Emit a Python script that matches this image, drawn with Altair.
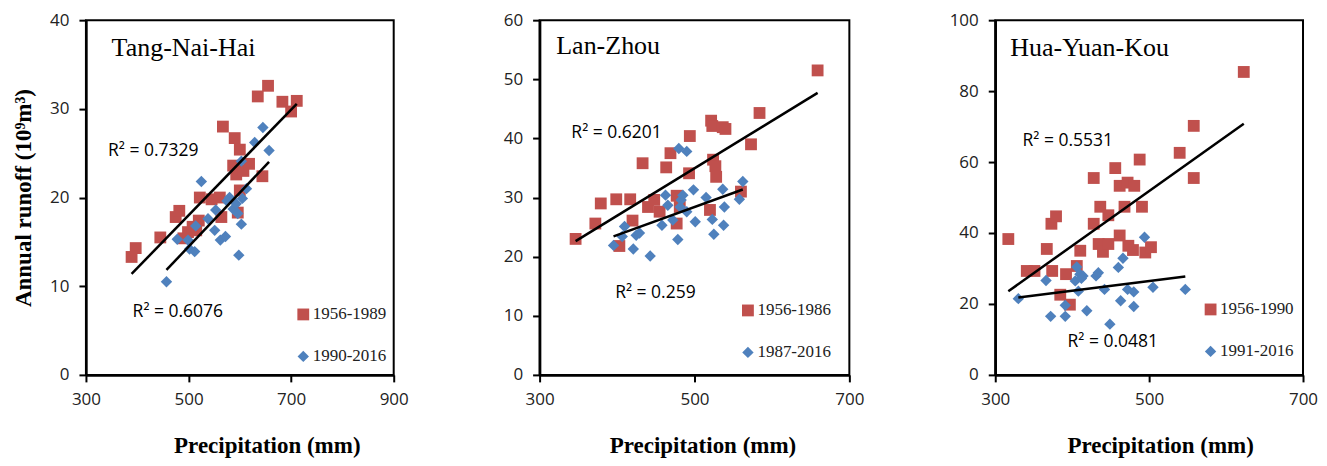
import altair as alt
import pandas as pd

RED = "#C0504D"
BLUE = "#4F81BD"

# ---------------- Tang-Nai-Hai ----------------
tnh_periods = ["1956-1989", "1990-2016"]
tnh_a_x = [389, 397, 445, 475, 482, 490, 499, 508, 522, 545, 561, 564, 567, 590, 600, 587,
           593, 607, 618, 644, 596, 600, 635, 655, 683, 700, 711, 520, 515]
tnh_a_y = [13.3, 14.3, 15.5, 17.8, 18.5, 15.4, 16.1, 16.7, 20.0, 19.8, 20.0, 17.8, 28.0, 26.7,
           25.4, 23.6, 22.6, 23.0, 23.8, 22.4, 18.3, 20.8, 31.4, 32.6, 30.8, 29.7, 30.9, 17.4, 16.3]
tnh_b_x = [457, 478, 499, 502, 512, 514, 525, 538, 551, 553, 562, 572, 575, 587, 593, 603,
           598, 605, 603, 613, 629, 645, 657, 580, 596]
tnh_b_y = [10.5, 15.3, 15.2, 14.2, 13.9, 16.8, 21.8, 17.6, 16.3, 18.6, 15.2, 15.6, 19.6, 18.7,
           19.3, 17.0, 13.5, 19.9, 24.1, 21.0, 26.2, 27.9, 25.3, 20.0, 18.2]

# ---------------- Lan-Zhou ----------------
lz_periods = ["1956-1986", "1987-2016"]
lz_a_x = [346.5, 372, 379, 399, 403, 417, 420, 433, 440, 448, 455, 463.5, 469, 477, 477, 481,
          494, 493, 521.5, 523, 524, 527, 528, 520, 536.5, 540, 560, 573, 584, 659]
lz_a_y = [23.0, 25.6, 29.0, 29.7, 21.8, 29.7, 26.1, 35.8, 28.4, 29.6, 27.6, 35.1, 37.5, 30.3,
          25.6, 28.4, 40.4, 34.1, 43.0, 42.1, 36.4, 35.3, 33.5, 27.9, 41.9, 41.6, 31.0, 39.0,
          44.3, 51.5]
lz_b_x = [395.5, 409.7, 406.7, 421, 424.7, 429, 442.8, 458, 462.6, 465.6, 472, 479.8, 490,
          478.5, 482.8, 485, 481.5, 490, 498.7, 501, 515, 523, 525, 536.5, 538.6, 537.6, 558,
          562.4]
lz_b_y = [21.9, 25.1, 23.4, 21.3, 23.6, 24.0, 20.1, 25.3, 30.4, 28.7, 26.2, 38.3, 37.8, 22.9,
          29.6, 30.4, 28.4, 27.6, 31.3, 25.9, 30.0, 26.3, 23.8, 31.4, 28.4, 25.3, 29.7, 32.7]

# ---------------- Hua-Yuan-Kou ----------------
hyk_periods = ["1956-1990", "1991-2016"]
hyk_a_x = [317, 341, 351, 367, 373, 379, 374, 384.5, 392, 397, 410.5, 406, 428, 428, 436.5,
           434.4, 440, 447, 447, 456, 461.7, 461.7, 468, 472, 473, 479, 480.7, 487.7, 490.7,
           495, 502.4, 539.7, 558, 558, 623]
hyk_a_y = [38.3, 29.3, 29.3, 35.5, 42.6, 44.7, 29.3, 22.6, 28.4, 19.8, 35.0, 30.7, 55.5, 42.6,
           47.4, 36.9, 34.7, 36.9, 45.0, 58.3, 53.3, 39.3, 47.4, 54.2, 36.4, 35.2, 53.3, 60.7,
           47.4, 34.5, 36.0, 62.6, 70.2, 55.5, 85.4]
hyk_b_x = [330, 366, 372, 391, 391, 404, 406, 408, 410, 414, 419, 431, 434, 442, 449, 460, 463,
           466, 472, 480, 480, 494, 505, 547, 412]
hyk_b_y = [21.5, 26.6, 16.5, 19.6, 16.5, 26.5, 30.4, 23.6, 28.4, 27.9, 18.1, 27.9, 28.8, 24.1,
           14.3, 30.3, 20.9, 32.9, 24.1, 23.4, 19.3, 38.8, 24.7, 24.1, 27.2]

one = pd.DataFrame({"k": [0]})


def text_at(txt, xv, yv, font, size, weight="normal"):
    return alt.Chart(one).mark_text(
        text=txt, font=font, fontSize=size, fontWeight=weight, align="left",
        baseline="middle", color="black"
    ).encode(x=alt.datum(xv), y=alt.datum(yv))


def panel(name, periods, ax, ay, bx, by, xdom, xticks, ydom, yticks, width,
          r2a, r2b, name_pos, leg_xy, ytitle, title_x):
    df = pd.DataFrame({
        "x": list(ax) + list(bx),
        "y": list(ay) + list(by),
        "period": [periods[0]] * len(ax) + [periods[1]] * len(bx),
    })
    xenc = alt.X("x:Q", scale=alt.Scale(domain=xdom, nice=False, zero=False),
                 axis=alt.Axis(values=xticks, title="Precipitation (mm)", titleX=title_x,
                               labelFlush=False))
    if ytitle:
        yenc = alt.Y("y:Q", scale=alt.Scale(domain=ydom, nice=False),
                     axis=alt.Axis(values=yticks, title=ytitle))
    else:
        yenc = alt.Y("y:Q", scale=alt.Scale(domain=ydom, nice=False),
                     axis=alt.Axis(values=yticks, title=None))
    leg = alt.Legend(orient="none", legendX=leg_xy[0], legendY=leg_xy[1], title=None,
                     direction="vertical", rowPadding=24, symbolSize=144, padding=0,
                     labelFont="Liberation Serif", labelFontSize=17, labelOffset=1,
                     symbolStrokeWidth=0, labelColor="#222222")
    pts = alt.Chart(df).mark_point(filled=True, opacity=1, strokeWidth=0).encode(
        x=xenc, y=yenc,
        color=alt.Color("period:N", scale=alt.Scale(domain=periods, range=[RED, BLUE]), legend=leg),
        shape=alt.Shape("period:N", scale=alt.Scale(domain=periods, range=["square", "diamond"]), legend=leg),
        size=alt.Size("period:N", scale=alt.Scale(domain=periods, range=[140, 130]), legend=None),
    )
    lines = alt.Chart(df).transform_regression("x", "y", groupby=["period"]).mark_line(
        color="black", strokeWidth=2.5
    ).encode(x="x:Q", y="y:Q", detail="period:N")
    layer = alt.layer(
        pts, lines,
        text_at(r2a[0], r2a[1], r2a[2], "Open Sans", 17.5),
        text_at(r2b[0], r2b[1], r2b[2], "Open Sans", 17.5),
        text_at(name, name_pos[0], name_pos[1], "Liberation Serif", 26),
    ).properties(width=width, height=355)
    return layer


p1 = panel("Tang-Nai-Hai", tnh_periods, tnh_a_x, tnh_a_y, tnh_b_x, tnh_b_y,
           [300, 900], [300, 500, 700, 900], [0, 40], [0, 10, 20, 30, 40], 308,
           ("R² = 0.7329", 343, 25.2), ("R² = 0.6076", 391, 7.1), (350, 36.9),
           (209, 286), "Annual runoff (10⁹m³)", 181)
p2 = panel("Lan-Zhou", lz_periods, lz_a_x, lz_a_y, lz_b_x, lz_b_y,
           [300, 700], [300, 500, 700], [0, 60], [0, 10, 20, 30, 40, 50, 60], 310,
           ("R² = 0.6201", 341, 40.9), ("R² = 0.259", 397.6, 13.9), (321.5, 55.7),
           (200, 282), None, 163)
p3 = panel("Hua-Yuan-Kou", hyk_periods, hyk_a_x, hyk_a_y, hyk_b_x, hyk_b_y,
           [300, 700], [300, 500, 700], [0, 100], [0, 20, 40, 60, 80, 100], 308,
           ("R² = 0.5531", 335.5, 65.9), ("R² = 0.0481", 394, 9.3), (319.5, 92.1),
           (207, 281), None, 165)

chart = alt.hconcat(p1, p2, p3, spacing=146, bounds="flush").resolve_scale(
    color="independent", shape="independent", size="independent"
).resolve_legend(color="independent", shape="independent").configure(
    padding={"left": 3, "top": 2, "right": 0, "bottom": 0}
).configure_view(
    stroke="black", strokeWidth=2
).configure_axis(
    grid=False, domainColor="black", domainWidth=2.5, tickColor="black", tickWidth=2,
    tickSize=7, labelFont="Open Sans", labelFontSize=17, labelColor="#222222",
    labelPadding=10, titleFont="Liberation Serif", titleFontSize=23, titleFontWeight="bold",
    titleColor="black"
).configure_axisX(titlePadding=27).configure_axisY(titlePadding=14)

chart.save("out.html", embed_options={"renderer": "svg", "actions": False})
